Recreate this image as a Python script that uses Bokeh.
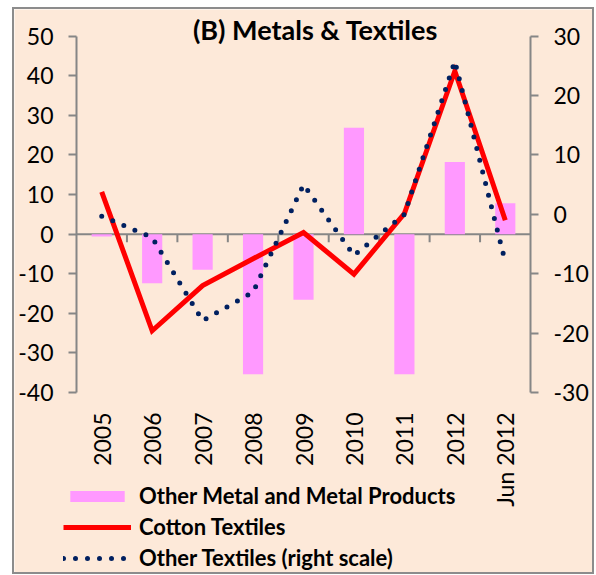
import numpy as np
from bokeh.plotting import figure
from bokeh.models import Range1d, LinearAxis, FixedTicker, Legend, LegendItem, Label
from bokeh.embed import file_html
from bokeh.resources import INLINE

# ---- data ----
categories = ["2005", "2006", "2007", "2008", "2009", "2010", "2011", "2012", "Jun 2012"]
metal_products = [-0.6, -12.4, -9.0, -35.4, -16.6, 26.9, -35.4, 18.2, 7.8]   # left axis, bars
cotton_textiles = [10.7, -24.4, -13.0, -6.2, 0.4, -10.1, 5.2, 41.2, 3.5]     # left axis, line
other_textiles = [-0.3, -3.9, -17.9, -13.1, 5.0, -6.9, 0.0, 25.8, -8.0]      # right axis, dotted
left_ticks = [-40, -30, -20, -10, 0, 10, 20, 30, 40, 50]
right_ticks = [-30, -20, -10, 0, 10, 20, 30]
title_text = "(B) Metals & Textiles"
series_names = ["Other Metal and Metal Products", "Cotton Textiles", "Other Textiles (right scale)"]

# ---- layout (pixels) ----
GRAY = "#868686"
BG = "#FDE9D9"
FONT = "Lato"
FIG_W, FIG_H = 578, 563
AREA_L, AREA_R = 62, 516        # value area inside the figure, px from left
AREA_T, AREA_B = 26.7, 383      # px from top

n = len(categories)
xpos = [i + 0.5 for i in range(n)]
boundaries = list(range(1, n))

ux = n / (AREA_R - AREA_L)
lo, hi = left_ticks[0], left_ticks[-1]
uy = (hi - lo) / (AREA_B - AREA_T)
rlo, rhi = right_ticks[0], right_ticks[-1]
ury = (rhi - rlo) / (AREA_B - AREA_T)

x_range = Range1d(-AREA_L * ux, n + (FIG_W - AREA_R) * ux)
y_range = Range1d(lo - (FIG_H - AREA_B) * uy, hi + AREA_T * uy)
y_right = Range1d(rlo - (FIG_H - AREA_B) * ury, rhi + AREA_T * ury)

p = figure(width=FIG_W, height=FIG_H, x_range=x_range, y_range=y_range,
           x_axis_type=None, y_axis_type=None, output_backend="svg", toolbar_location=None,
           min_border_left=0, min_border_right=0, min_border_top=0, min_border_bottom=0,
           background_fill_color=BG, border_fill_color=BG, outline_line_color=None)
p.extra_y_ranges = {"right": y_right}
p.styles = {"margin-left": "14px", "margin-top": "9px", "box-shadow": "0 0 0 2px #8C8C8C"}

def style_axis(ax):
    ax.axis_line_color = GRAY
    ax.axis_line_width = 2
    ax.major_tick_line_color = GRAY
    ax.major_tick_line_width = 2
    ax.minor_tick_line_color = None
    ax.major_label_text_font = FONT
    ax.major_label_text_font_size = "23px"
    ax.major_label_text_color = "#000000"
    ax.major_tick_out = 8
    ax.major_tick_in = 0
    ax.major_label_standoff = 15

yl = LinearAxis(ticker=FixedTicker(ticks=left_ticks), fixed_location=0, bounds=(lo, hi),
                major_label_overrides={t: str(t) for t in left_ticks})
style_axis(yl)
p.add_layout(yl, "left")

yr = LinearAxis(ticker=FixedTicker(ticks=right_ticks), y_range_name="right",
                fixed_location=n, bounds=(rlo, rhi),
                major_label_overrides={t: str(t) for t in right_ticks})
style_axis(yr)
p.add_layout(yr, "right")

# category labels under the value area
xb = LinearAxis(ticker=FixedTicker(ticks=xpos), fixed_location=lo,
                major_label_overrides={xv: c for xv, c in zip(xpos, categories)})
style_axis(xb)
xb.axis_line_color = None
xb.major_tick_line_color = None
xb.major_tick_out = 0
xb.major_label_standoff = 20
xb.major_label_orientation = np.pi / 2
p.add_layout(xb, "below")

# zero line with category-boundary tick marks
tick_len = 8 * uy
p.segment(x0=[0], y0=[0], x1=[n], y1=[0], line_color=GRAY, line_width=2)
p.segment(x0=boundaries, y0=[0] * len(boundaries), x1=boundaries, y1=[-tick_len] * len(boundaries),
          line_color=GRAY, line_width=2)

bars = p.vbar(x=xpos, top=metal_products, width=0.4, fill_color="#FF99FF", line_color=None)
red = p.line(xpos, cotton_textiles, line_color="#FF0000", line_width=5, line_join="miter")
dots = p.line(xpos, other_textiles, y_range_name="right", line_color="#002060", line_width=5,
              line_dash="0 12", line_cap="round")

title_y = y_range.end - 20 * uy
title_x = x_range.start + 301 * ux
p.add_layout(Label(x=title_x, y=title_y, text=title_text, text_align="center", text_baseline="middle",
                   text_font=FONT, text_font_style="bold", text_font_size="27px", text_color="#000000"))

legend = Legend(items=[LegendItem(label=series_names[0], renderers=[bars]),
                       LegendItem(label=series_names[1], renderers=[red]),
                       LegendItem(label=series_names[2], renderers=[dots])],
                location=(49, 1), orientation="vertical",
                glyph_width=68, glyph_height=14, label_standoff=8, spacing=4,
                padding=0, margin=0, border_line_color=None, background_fill_alpha=0,
                label_text_font=FONT, label_text_font_style="bold", label_text_font_size="22px",
                label_text_color="#000000")
p.add_layout(legend, "center")

open("out.html", "w").write(file_html(p, INLINE))
